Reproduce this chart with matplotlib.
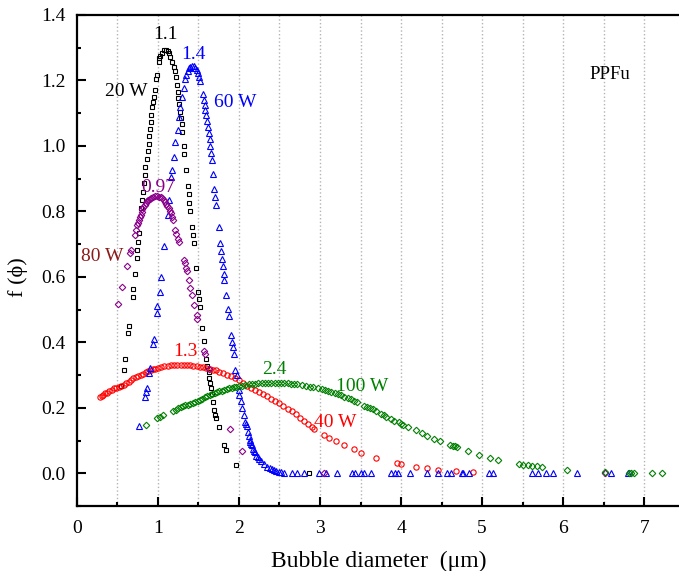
import matplotlib
matplotlib.use('Agg')
import matplotlib.pyplot as plt
from matplotlib.ticker import MultipleLocator, FormatStrFormatter

plt.rcParams['font.family'] = ['Liberation Serif', 'DejaVu Serif']

# 20 W (black squares)
x20 = [0.55, 0.577, 0.597, 0.632, 0.648, 0.688, 0.696, 0.721, 0.741, 0.749, 0.754, 0.774,
       0.791, 0.803, 0.815, 0.824, 0.840, 0.848, 0.865, 0.873, 0.886, 0.890, 0.898, 0.915,
       0.918, 0.927, 0.939, 0.947, 0.968, 0.980, 0.989, 1.009, 1.013, 1.030, 1.051, 1.079,
       1.10, 1.12, 1.137, 1.153, 1.174, 1.195, 1.207, 1.219, 1.236, 1.244, 1.252, 1.260,
       1.268, 1.285, 1.298, 1.298, 1.318, 1.326, 1.351, 1.367, 1.380, 1.388, 1.400, 1.422,
       1.429, 1.441, 1.471, 1.496, 1.512, 1.524, 1.549, 1.565, 1.598, 1.607, 1.627, 1.635,
       1.648, 1.660, 1.669, 1.681, 1.697, 1.710, 1.718, 1.750, 1.812, 1.842, 1.969, 2.87]
y20 = [0.266, 0.315, 0.350, 0.428, 0.449, 0.538, 0.562, 0.608, 0.658, 0.683, 0.707, 0.734,
       0.809, 0.834, 0.860, 0.886, 0.911, 0.935, 0.960, 0.983, 1.006, 1.031, 1.051, 1.072,
       1.094, 1.120, 1.135, 1.150, 1.171, 1.204, 1.217, 1.257, 1.268, 1.276, 1.283, 1.292,
       1.293, 1.291, 1.283, 1.273, 1.257, 1.242, 1.229, 1.211, 1.186, 1.166, 1.145, 1.127,
       1.104, 1.086, 1.066, 1.043, 1.000, 0.976, 0.927, 0.879, 0.852, 0.827, 0.801, 0.753,
       0.727, 0.702, 0.627, 0.554, 0.531, 0.508, 0.445, 0.403, 0.348, 0.327, 0.309, 0.292,
       0.277, 0.260, 0.243, 0.217, 0.192, 0.179, 0.168, 0.141, 0.085, 0.072, 0.024, 0.0]

# 40 W (red circles)
x40 = [0.29, 0.31, 0.33, 0.35, 0.37, 0.40, 0.43, 0.46, 0.49, 0.52, 0.55, 0.58, 0.61, 0.64,
       0.67, 0.70, 0.73, 0.76, 0.79, 0.82, 0.85, 0.88, 0.91, 0.94, 0.97, 1.00, 1.04, 1.08,
       1.12, 1.16, 1.20, 1.24, 1.28, 1.32, 1.36, 1.40, 1.44, 1.48, 1.52, 1.56, 1.60, 1.64,
       1.68, 1.72, 1.76, 1.80, 1.85, 1.90, 1.95, 2.00, 2.05, 2.10, 2.15, 2.20, 2.25, 2.30,
       2.35, 2.40, 2.45, 2.50, 2.55, 2.60, 2.65, 2.70, 2.75, 2.80, 2.85, 2.90, 2.93,
       3.05, 3.11, 3.20, 3.30, 3.42, 3.51, 3.69, 3.95, 4.005, 4.18, 4.32, 4.46, 4.68, 4.89]
y40 = [0.233, 0.236, 0.240, 0.244, 0.246, 0.251, 0.255, 0.259, 0.262, 0.265, 0.267, 0.271,
       0.276, 0.280, 0.285, 0.290, 0.294, 0.297, 0.300, 0.304, 0.308, 0.312, 0.315, 0.318,
       0.320, 0.322, 0.325, 0.327, 0.329, 0.330, 0.331, 0.332, 0.332, 0.332, 0.332, 0.331,
       0.329, 0.328, 0.326, 0.324, 0.322, 0.320, 0.317, 0.314, 0.310, 0.305, 0.301, 0.296,
       0.290, 0.284, 0.277, 0.268, 0.261, 0.254, 0.247, 0.241, 0.235, 0.228, 0.221, 0.214,
       0.205, 0.197, 0.189, 0.180, 0.170, 0.161, 0.151, 0.141, 0.136,
       0.117, 0.108, 0.100, 0.085, 0.073, 0.062, 0.047, 0.031, 0.028, 0.018, 0.015, 0.011,
       0.006, 0.003]

# 60 W (blue triangles)
x60 = [0.762, 0.845, 0.853, 0.865, 0.886, 0.898, 0.943, 0.951, 0.989, 0.996, 1.021, 1.038,
       1.079, 1.120, 1.141, 1.166, 1.174, 1.195, 1.215, 1.244, 1.265, 1.277, 1.298, 1.318,
       1.339, 1.351, 1.367, 1.384, 1.400, 1.421, 1.441, 1.462, 1.483, 1.496, 1.512, 1.524,
       1.553, 1.565, 1.577, 1.586, 1.594, 1.607, 1.615, 1.627, 1.639, 1.648, 1.656, 1.669,
       1.681, 1.697, 1.710, 1.722, 1.750, 1.771, 1.784, 1.792, 1.800, 1.812, 1.821, 1.842,
       1.862, 1.874, 1.903, 1.916, 1.924, 1.936, 1.957, 1.978, 1.997, 2.006, 2.02, 2.040,
       2.059, 2.080, 2.09, 2.101, 2.109, 2.121, 2.134, 2.14, 2.151, 2.16, 2.176, 2.19, 2.195,
       2.216, 2.23, 2.245, 2.27, 2.307, 2.35, 2.381, 2.41, 2.430, 2.46, 2.492, 2.52, 2.554,
       2.66, 2.72, 2.80, 2.99, 3.07, 3.21, 3.40, 3.43, 3.51, 3.54, 3.63, 3.87, 3.93, 3.96,
       4.11, 4.32, 4.45, 4.57, 4.62, 4.75, 4.77, 4.84, 5.09, 5.14, 5.62, 5.69, 5.79, 5.87,
       6.17, 6.59, 6.80]
y60 = [0.144, 0.232, 0.247, 0.262, 0.307, 0.322, 0.395, 0.411, 0.491, 0.512, 0.555, 0.600,
       0.693, 0.788, 0.834, 0.905, 0.926, 0.967, 1.011, 1.050, 1.089, 1.120, 1.150, 1.178,
       1.204, 1.217, 1.229, 1.237, 1.242, 1.245, 1.245, 1.239, 1.232, 1.222, 1.211, 1.199,
       1.158, 1.140, 1.125, 1.110, 1.094, 1.077, 1.058, 1.038, 1.020, 0.999, 0.979, 0.957,
       0.913, 0.868, 0.844, 0.821, 0.751, 0.704, 0.679, 0.656, 0.633, 0.610, 0.589, 0.544,
       0.501, 0.481, 0.421, 0.401, 0.386, 0.365, 0.314, 0.299, 0.253, 0.238, 0.220, 0.200,
       0.179, 0.158, 0.150, 0.143, 0.125, 0.115, 0.102, 0.097, 0.090, 0.085, 0.075, 0.068, 0.064,
       0.054, 0.050, 0.044, 0.038, 0.029, 0.020, 0.015, 0.012, 0.010, 0.008, 0.005, 0.003, 0.002,
       0.0, 0.0, 0.0, 0.0, 0.0, 0.0, 0.0, 0.0, 0.0, 0.0, 0.0, 0.0, 0.0, 0.0,
       0.0, 0.0, 0.0, 0.0, 0.0, 0.0, 0.0, 0.0, 0.0, 0.0, 0.0, 0.0, 0.0, 0.0,
       0.0, 0.0, 0.0]

# 80 W (purple diamonds)
x80 = [0.507, 0.564, 0.626, 0.655, 0.667, 0.721, 0.733, 0.749, 0.760, 0.770, 0.780, 0.791,
       0.801, 0.811, 0.823, 0.836, 0.850, 0.865, 0.880, 0.898, 0.915, 0.935, 0.960, 0.989,
       1.015, 1.038, 1.055, 1.071, 1.088, 1.104, 1.118, 1.132, 1.147, 1.162, 1.175, 1.187,
       1.215, 1.227, 1.244, 1.256, 1.318, 1.330, 1.343, 1.360, 1.380, 1.400, 1.425, 1.452,
       1.478, 1.488, 1.574, 1.586, 1.631, 1.886, 2.040, 3.05, 6.51]
y80 = [0.516, 0.569, 0.632, 0.673, 0.683, 0.727, 0.742, 0.758, 0.766, 0.773, 0.782, 0.790,
       0.798, 0.806, 0.813, 0.819, 0.825, 0.831, 0.835, 0.839, 0.842, 0.844, 0.846, 0.846,
       0.845, 0.843, 0.840, 0.836, 0.830, 0.824, 0.817, 0.809, 0.802, 0.794, 0.784, 0.773,
       0.742, 0.732, 0.717, 0.705, 0.651, 0.641, 0.628, 0.618, 0.589, 0.567, 0.546, 0.513,
       0.482, 0.470, 0.375, 0.364, 0.318, 0.136, 0.067, 0.0, 0.0]

# 100 W (green diamonds)
x100 = [0.85, 0.99, 1.03, 1.07, 1.19, 1.22, 1.25, 1.28, 1.31, 1.34, 1.37, 1.40, 1.43, 1.46,
        1.49, 1.52, 1.55, 1.58, 1.61, 1.64, 1.67, 1.70, 1.73, 1.76, 1.79, 1.82, 1.85, 1.88,
        1.91, 1.94, 1.97, 2.00, 2.04, 2.08, 2.12, 2.16, 2.20, 2.24, 2.28, 2.32, 2.36, 2.40,
        2.44, 2.48, 2.52, 2.56, 2.60, 2.64, 2.68, 2.72, 2.78, 2.83, 2.88, 2.92, 2.97, 3.02,
        3.06, 3.10, 3.14, 3.18, 3.22, 3.26, 3.30, 3.34, 3.38, 3.42, 3.46, 3.54, 3.58, 3.62,
        3.66, 3.69, 3.75, 3.79, 3.81, 3.88, 3.91, 3.97, 4.00, 4.02, 4.09, 4.18, 4.26, 4.32,
        4.41, 4.48, 4.61, 4.64, 4.66, 4.69, 4.83, 4.96, 5.10, 5.20, 5.45, 5.51, 5.57, 5.62,
        5.68, 5.74, 6.05, 6.52, 6.81, 6.84, 6.87, 7.10, 7.22]
y100 = [0.149, 0.168, 0.172, 0.177, 0.191, 0.194, 0.198, 0.202, 0.205, 0.208, 0.210, 0.213,
        0.216, 0.219, 0.222, 0.225, 0.228, 0.232, 0.235, 0.238, 0.241, 0.244, 0.247, 0.250,
        0.252, 0.255, 0.257, 0.259, 0.261, 0.263, 0.265, 0.266, 0.268, 0.270, 0.272, 0.273,
        0.274, 0.275, 0.276, 0.277, 0.277, 0.277, 0.277, 0.277, 0.277, 0.276, 0.275, 0.274,
        0.273, 0.272, 0.270, 0.268, 0.265, 0.263, 0.260, 0.257, 0.254, 0.250, 0.247, 0.244,
        0.241, 0.238, 0.234, 0.230, 0.227, 0.222, 0.219, 0.205, 0.203, 0.198, 0.195, 0.189,
        0.182, 0.177, 0.171, 0.165, 0.161, 0.156, 0.152, 0.149, 0.141, 0.131, 0.124, 0.115,
        0.106, 0.099, 0.087, 0.084, 0.082, 0.079, 0.067, 0.057, 0.048, 0.042, 0.029, 0.026,
        0.024, 0.023, 0.021, 0.018, 0.010, 0.003, 0.0, 0.0, 0.0, 0.0, 0.0]

fig = plt.figure(figsize=(6.79, 5.71), dpi=100)
ax = fig.add_axes([0.113, 0.1138, 0.889, 0.86])

ax.plot(x20, y20, 's', ms=3.3, mfc='none', mec='black', mew=0.8, zorder=3)
ax.plot(x40, y40, 'o', ms=3.8, mfc='none', mec='red', mew=0.8, zorder=3)
ax.plot(x60, y60, '^', ms=4.2, mfc='none', mec='blue', mew=0.8, zorder=3)
ax.plot(x80, y80, 'D', ms=3.3, mfc='none', mec='#8B008B', mew=0.8, zorder=3)
ax.plot(x100, y100, 'D', ms=3.3, mfc='none', mec='green', mew=0.8, zorder=3)

fs = 14
ax.text(1.09, 1.339, '1.1', color='black', fontsize=fs, ha='center', va='center')
ax.text(0.61, 1.166, '20 W', color='black', fontsize=fs, ha='center', va='center')
ax.text(1.434, 1.278, '1.4', color='blue', fontsize=fs, ha='center', va='center')
ax.text(1.95, 1.132, '60 W', color='blue', fontsize=fs, ha='center', va='center')
ax.text(1.01, 0.872, '0.97', color='#8B008B', fontsize=fs, ha='center', va='center')
ax.text(0.31, 0.661, '80 W', color='#8B1A1A', fontsize=fs, ha='center', va='center')
ax.text(1.34, 0.372, '1.3', color='red', fontsize=fs, ha='center', va='center')
ax.text(3.19, 0.156, '40 W', color='red', fontsize=fs, ha='center', va='center')
ax.text(2.44, 0.316, '2.4', color='green', fontsize=fs, ha='center', va='center')
ax.text(3.52, 0.265, '100 W', color='green', fontsize=fs, ha='center', va='center')
ax.text(6.58, 1.217, 'PPFu', color='black', fontsize=13.5, ha='center', va='center')

ax.set_xlim(0, 7.445)
ax.set_ylim(-0.1, 1.4)
ax.xaxis.set_major_locator(MultipleLocator(1))
ax.xaxis.set_minor_locator(MultipleLocator(0.5))
ax.yaxis.set_major_locator(MultipleLocator(0.2))
ax.yaxis.set_minor_locator(MultipleLocator(0.1))
ax.yaxis.set_major_formatter(FormatStrFormatter('%.1f'))

for gx in [0.5, 1, 1.5, 2, 2.5, 3, 3.5, 4, 4.5, 5, 5.5, 6, 6.5, 7]:
    ax.axvline(gx, color='#b4b4b4', ls=':', lw=1.0, zorder=1)

ax.tick_params(which='both', direction='in', width=1.5, labelsize=14, top=False, right=False)
ax.tick_params(which='major', length=6.5, pad=8)
ax.tick_params(axis='x', which='major', pad=10)
ax.tick_params(which='minor', length=3)
ax.spines['right'].set_visible(False)
for s in ['left', 'bottom', 'top']:
    ax.spines[s].set_linewidth(1.6)

ax.set_xlabel('Bubble diameter  (\u03bcm)', fontsize=17, labelpad=10)
ax.set_ylabel('f (\u03d5)', fontsize=16)
ax.yaxis.set_label_coords(-0.081, 0.466)

fig.savefig('out.png', dpi=100)
